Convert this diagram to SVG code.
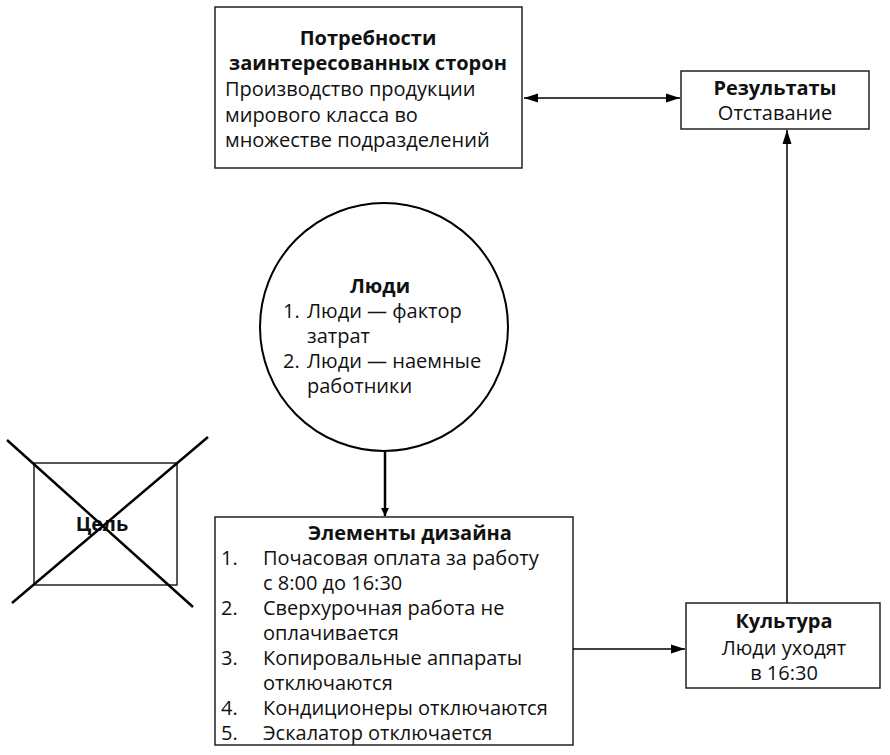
<svg xmlns="http://www.w3.org/2000/svg" width="890" height="755" viewBox="0 0 890 755">
  <style>
    text { font-family: "Open Sans", "Noto Sans", "DejaVu Sans", sans-serif; font-size: 20px; fill: #111; }
    .b { font-weight: bold; }
    .c { text-anchor: middle; }
    .box { fill: #fff; stroke: #222; stroke-width: 1.5; }
    .ln { fill: none; stroke: #000; stroke-width: 1.5; }
  </style>
  <defs>
    <marker id="ah" viewBox="0 0 14 10" refX="14" refY="5" markerWidth="14" markerHeight="10" markerUnits="userSpaceOnUse" orient="auto-start-reverse">
      <path d="M0,0.5 L14,5 L0,9.5 Z" fill="#000"/>
    </marker>
    <marker id="ahBig" viewBox="0 0 12 18" refX="12" refY="9" markerWidth="18" markerHeight="12" markerUnits="userSpaceOnUse" orient="auto">
      <path d="M0,3 L12,9 L0,15 Z" fill="#000"/>
    </marker>
  </defs>

  <g id="needs">
    <rect class="box" x="215" y="7" width="307" height="161"/>
    <text class="b c" x="368" y="45">Потребности</text>
    <text class="b c" x="368" y="70">заинтересованных сторон</text>
    <text x="225" y="96">Производство продукции</text>
    <text x="225" y="122">мирового класса во</text>
    <text x="225" y="147">множестве подразделений</text>
  </g>

  <g id="results">
    <rect class="box" x="681" y="71" width="188" height="58"/>
    <text class="b c" x="775" y="95">Результаты</text>
    <text class="c" x="775" y="120">Отставание</text>
  </g>

  <g id="people">
    <circle cx="384" cy="327" r="124" fill="#fff" stroke="#000" stroke-width="2"/>
    <text class="b c" x="380" y="293">Люди</text>
    <text x="283" y="318">1.</text>
    <text x="307" y="318">Люди — фактор</text>
    <text x="307" y="343">затрат</text>
    <text x="283" y="368">2.</text>
    <text x="307" y="368">Люди — наемные</text>
    <text x="307" y="393">работники</text>
  </g>

  <g id="goal">
    <rect x="34" y="463" width="143" height="122" fill="none" stroke="#222" stroke-width="1.5"/>
    <text class="b c" x="102" y="531">Цель</text>
    <line x1="7" y1="440" x2="193" y2="607" stroke="#000" stroke-width="2.5"/>
    <line x1="208" y1="437" x2="12" y2="603" stroke="#000" stroke-width="2.5"/>
  </g>

  <g id="design">
    <rect class="box" x="215" y="517" width="358" height="228"/>
    <text class="b c" x="410" y="540">Элементы дизайна</text>
    <text x="221" y="565">1.</text>
    <text x="263" y="565">Почасовая оплата за работу</text>
    <text x="263" y="590">с 8:00 до 16:30</text>
    <text x="221" y="615">2.</text>
    <text x="263" y="615">Сверхурочная работа не</text>
    <text x="263" y="640">оплачивается</text>
    <text x="221" y="665">3.</text>
    <text x="263" y="665">Копировальные аппараты</text>
    <text x="263" y="690">отключаются</text>
    <text x="221" y="715">4.</text>
    <text x="263" y="715">Кондиционеры отключаются</text>
    <text x="221" y="740">5.</text>
    <text x="263" y="740">Эскалатор отключается</text>
  </g>

  <g id="culture">
    <rect class="box" x="686" y="603" width="194" height="85"/>
    <text class="b c" x="784" y="628">Культура</text>
    <text class="c" x="784" y="655">Люди уходят</text>
    <text class="c" x="784" y="680">в 16:30</text>
  </g>

  <g id="connectors">
    <line class="ln" x1="524" y1="98" x2="680" y2="98" marker-start="url(#ah)" marker-end="url(#ah)"/>
    <line class="ln" x1="787" y1="603" x2="787" y2="130" marker-end="url(#ah)"/>
    <line class="ln" x1="573" y1="649" x2="685" y2="649" marker-end="url(#ah)"/>
    <line x1="385" y1="452" x2="385" y2="516" stroke="#000" stroke-width="2.5" marker-end="url(#ahBig)"/>
  </g>
</svg>
